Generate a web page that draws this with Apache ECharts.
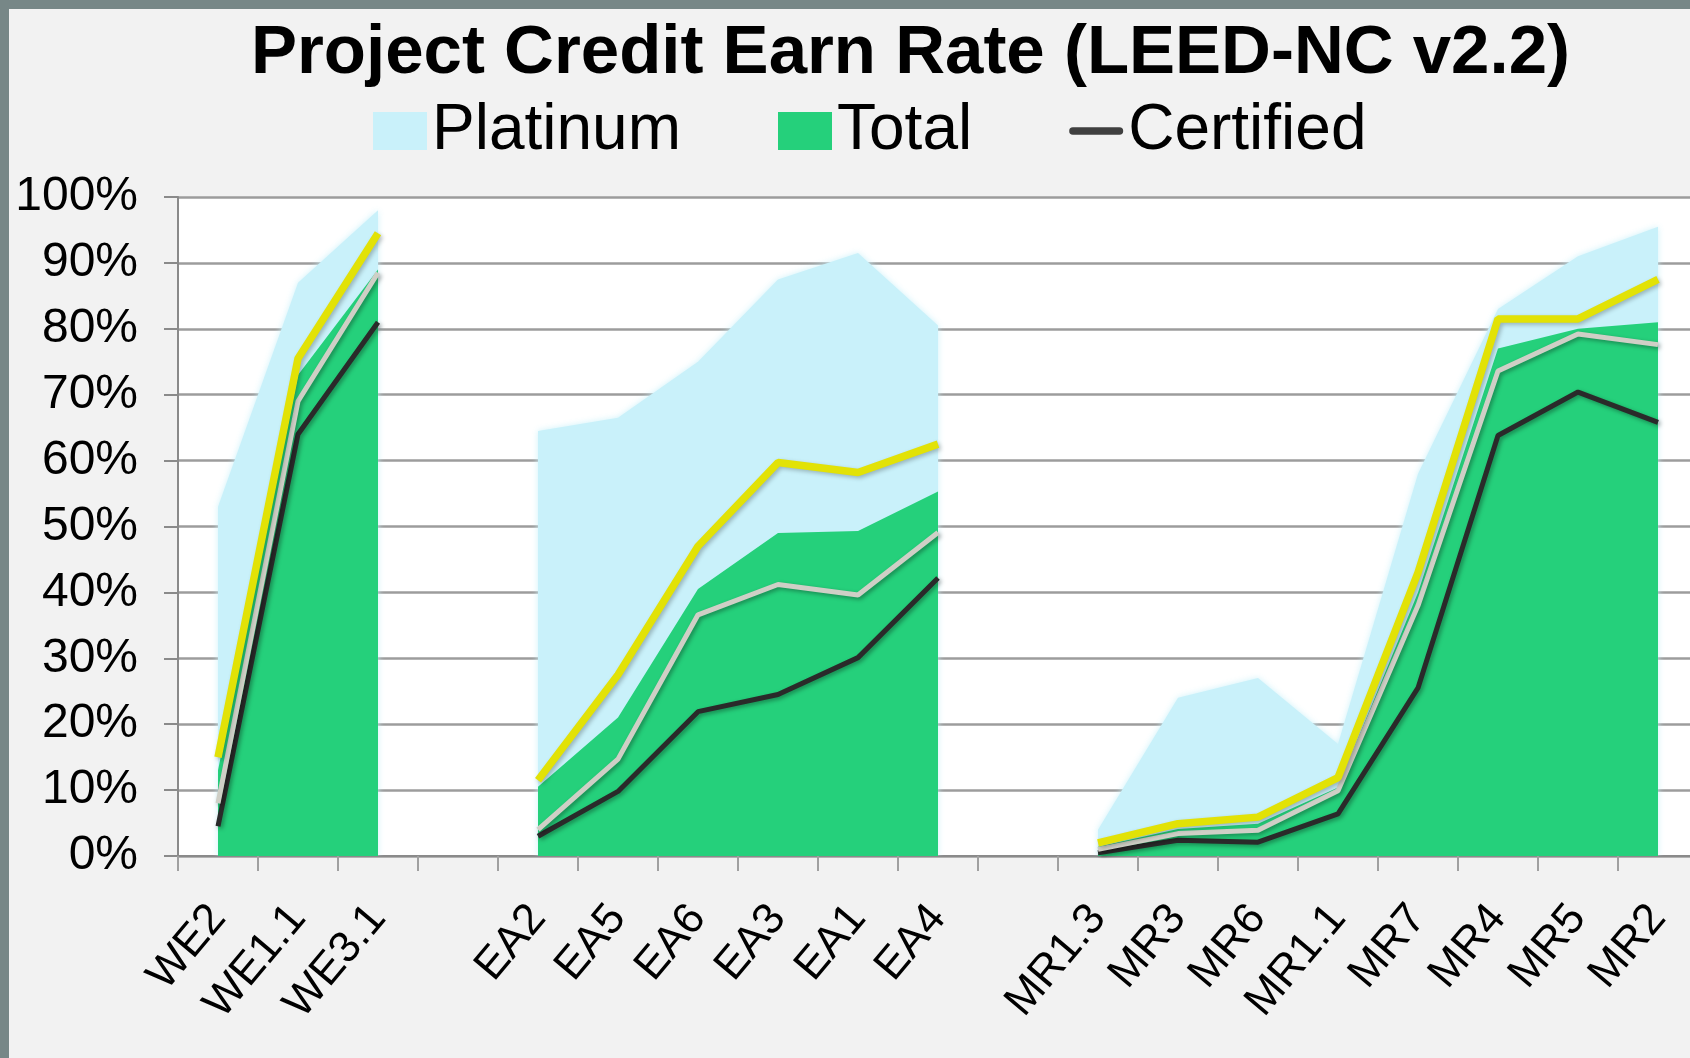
<!DOCTYPE html>
<html>
<head>
    <meta http-equiv="content-type" content="text/html;charset=utf-8" />
    <title>Project Credit Earn Rate</title>
    <script src="https://cdn.jsdelivr.net/npm/echarts@6/dist/echarts.min.js"></script>
    <style type="text/css">
        * {
            margin: 0;
            padding: 0
        }

        html, body {
            width: 1690px;
            height: 1058px;
            overflow: hidden;
            background: #f2f2f2;
            font-family: "Liberation Sans", Arial, sans-serif;
        }

        /* plot runs past the right edge of the picture, like the original crop */
        #linecontainer {
            width: 1700px;
            height: 1058px;
        }
    </style>
</head>

<body>
<div id="linecontainer"></div>

<script>
    // categories (blank ones separate the credit groups)
    var categories = ['WE2', 'WE1.1', 'WE3.1', ' ',
        'EA2', 'EA5', 'EA6', 'EA3', 'EA1', 'EA4', '  ',
        'MR1.3', 'MR3', 'MR6', 'MR1.1', 'MR7', 'MR4', 'MR5', 'MR2'];

    // earn rate in %
    var platinum = [53, 87, 98, null, 64.5, 66.5, 75, 87.5, 91.5, 80.5, null, 4, 24, 27, 17, 58, 83, 91, 95.5];
    var total = [13, 73, 89, null, 10.5, 21, 40.5, 49, 49.3, 55.3, null, 1.4, 4.1, 4.9, 10.4, 40, 77, 80, 81];
    var gold = [15, 75.5, 94.5, null, 11.5, 27.5, 47, 59.7, 58.2, 62.5, null, 2, 4.9, 5.9, 11.9, 43, 81.5, 81.5, 87.5];
    var silver = [8, 69, 88.5, null, 4, 14.7, 36.6, 41.2, 39.6, 49.1, null, 1, 3.4, 3.9, 9.9, 38, 73.6, 79.2, 77.6];
    var certified = [4.5, 64, 81, null, 3, 9.8, 21.9, 24.5, 30.1, 42.2, null, 0.5, 2.4, 2.1, 6.4, 25.5, 63.8, 70.4, 65.8];

    var yTicks = [0, 100, 10];

    var fontName = '"Liberation Sans", Arial, sans-serif';

    var chart = echarts.init(document.getElementById('linecontainer'));

    var option = {
        backgroundColor: '#f2f2f2',
        animation: false,
        title: {
            text: 'Project Credit Earn Rate (LEED-NC v2.2)',
            left: 246,
            top: 14,
            textStyle: {
                fontFamily: fontName,
                fontSize: 69,
                fontWeight: 'bold',
                color: '#000'
            }
        },
        legend: {
            left: 368,
            top: 94,
            itemGap: 97,
            itemWidth: 54,
            itemHeight: 38,
            textStyle: {
                fontFamily: fontName,
                fontSize: 64,
                color: '#000'
            },
            data: [
                { name: 'Platinum', icon: 'rect' },
                { name: 'Total', icon: 'rect' },
                {
                    name: 'Certified',
                    icon: 'path://M4,0L54,0A4,4,0,0,1,54,8L4,8A4,4,0,0,1,4,0Z',
                    itemStyle: { color: '#404040' }
                }
            ]
        },
        graphic: [
            { type: 'rect', left: 0, top: 0, shape: { width: 9, height: 1058 }, style: { fill: '#778787' }, z: 100 },
            { type: 'rect', left: 0, top: 0, shape: { width: 1700, height: 9 }, style: { fill: '#778787' }, z: 100 }
        ],
        grid: {
            left: 178,
            top: 197,
            bottom: 202,
            right: 2,
            show: true,
            backgroundColor: '#ffffff',
            borderWidth: 0
        },
        xAxis: {
            type: 'category',
            boundaryGap: true,
            data: categories,
            axisLine: { lineStyle: { color: '#8a8a8a', width: 2 } },
            axisTick: { show: true, length: 15, lineStyle: { color: '#a0a0a0', width: 2 } },
            axisLabel: {
                rotate: 50,
                interval: 0,
                margin: 55,
                fontFamily: fontName,
                fontSize: 44,
                color: '#000'
            }
        },
        yAxis: {
            type: 'value',
            min: yTicks[0],
            max: yTicks[1],
            interval: yTicks[2],
            axisLine: { show: true, lineStyle: { color: '#8a8a8a', width: 2 } },
            axisTick: { show: true, length: 14, lineStyle: { color: '#8a8a8a', width: 2 } },
            splitLine: { lineStyle: { color: '#9c9c9c', width: 2.5 } },
            axisLabel: {
                margin: 40,
                formatter: '{value}%',
                fontFamily: fontName,
                fontSize: 48,
                color: '#000'
            }
        },
        series: [
            {
                name: 'Platinum',
                type: 'line',
                data: platinum,
                symbol: 'none',
                itemStyle: { color: '#c9f1fa' },
                lineStyle: { width: 0, color: '#c9f1fa' },
                areaStyle: { color: '#c9f1fa', opacity: 1, shadowBlur: 6, shadowColor: 'rgba(201,241,250,0.9)' },
                z: 1
            },
            {
                name: 'Total',
                type: 'line',
                data: total,
                symbol: 'none',
                itemStyle: { color: '#25d07b' },
                lineStyle: { width: 0, color: '#25d07b' },
                areaStyle: { color: '#25d07b', opacity: 1 },
                z: 2
            },
            {
                name: 'Certified',
                type: 'line',
                data: certified,
                symbol: 'none',
                itemStyle: { color: '#404040' },
                lineStyle: {
                    width: 5, color: '#2a2a2a',
                    shadowBlur: 4, shadowColor: 'rgba(0,0,0,0.35)', shadowOffsetX: 2, shadowOffsetY: 2
                },
                z: 3
            },
            {
                name: 'Silver',
                type: 'line',
                data: silver,
                symbol: 'none',
                lineStyle: {
                    width: 5, color: '#cfcfc6',
                    shadowBlur: 4, shadowColor: 'rgba(0,0,0,0.35)', shadowOffsetX: 2, shadowOffsetY: 2
                },
                z: 4
            },
            {
                name: 'Gold',
                type: 'line',
                data: gold,
                symbol: 'none',
                lineStyle: {
                    width: 7.5, color: '#e2e206',
                    shadowBlur: 4, shadowColor: 'rgba(0,0,0,0.25)', shadowOffsetX: 2, shadowOffsetY: 2
                },
                z: 5
            }
        ]
    };

    chart.setOption(option);
</script>
</body>
</html>
